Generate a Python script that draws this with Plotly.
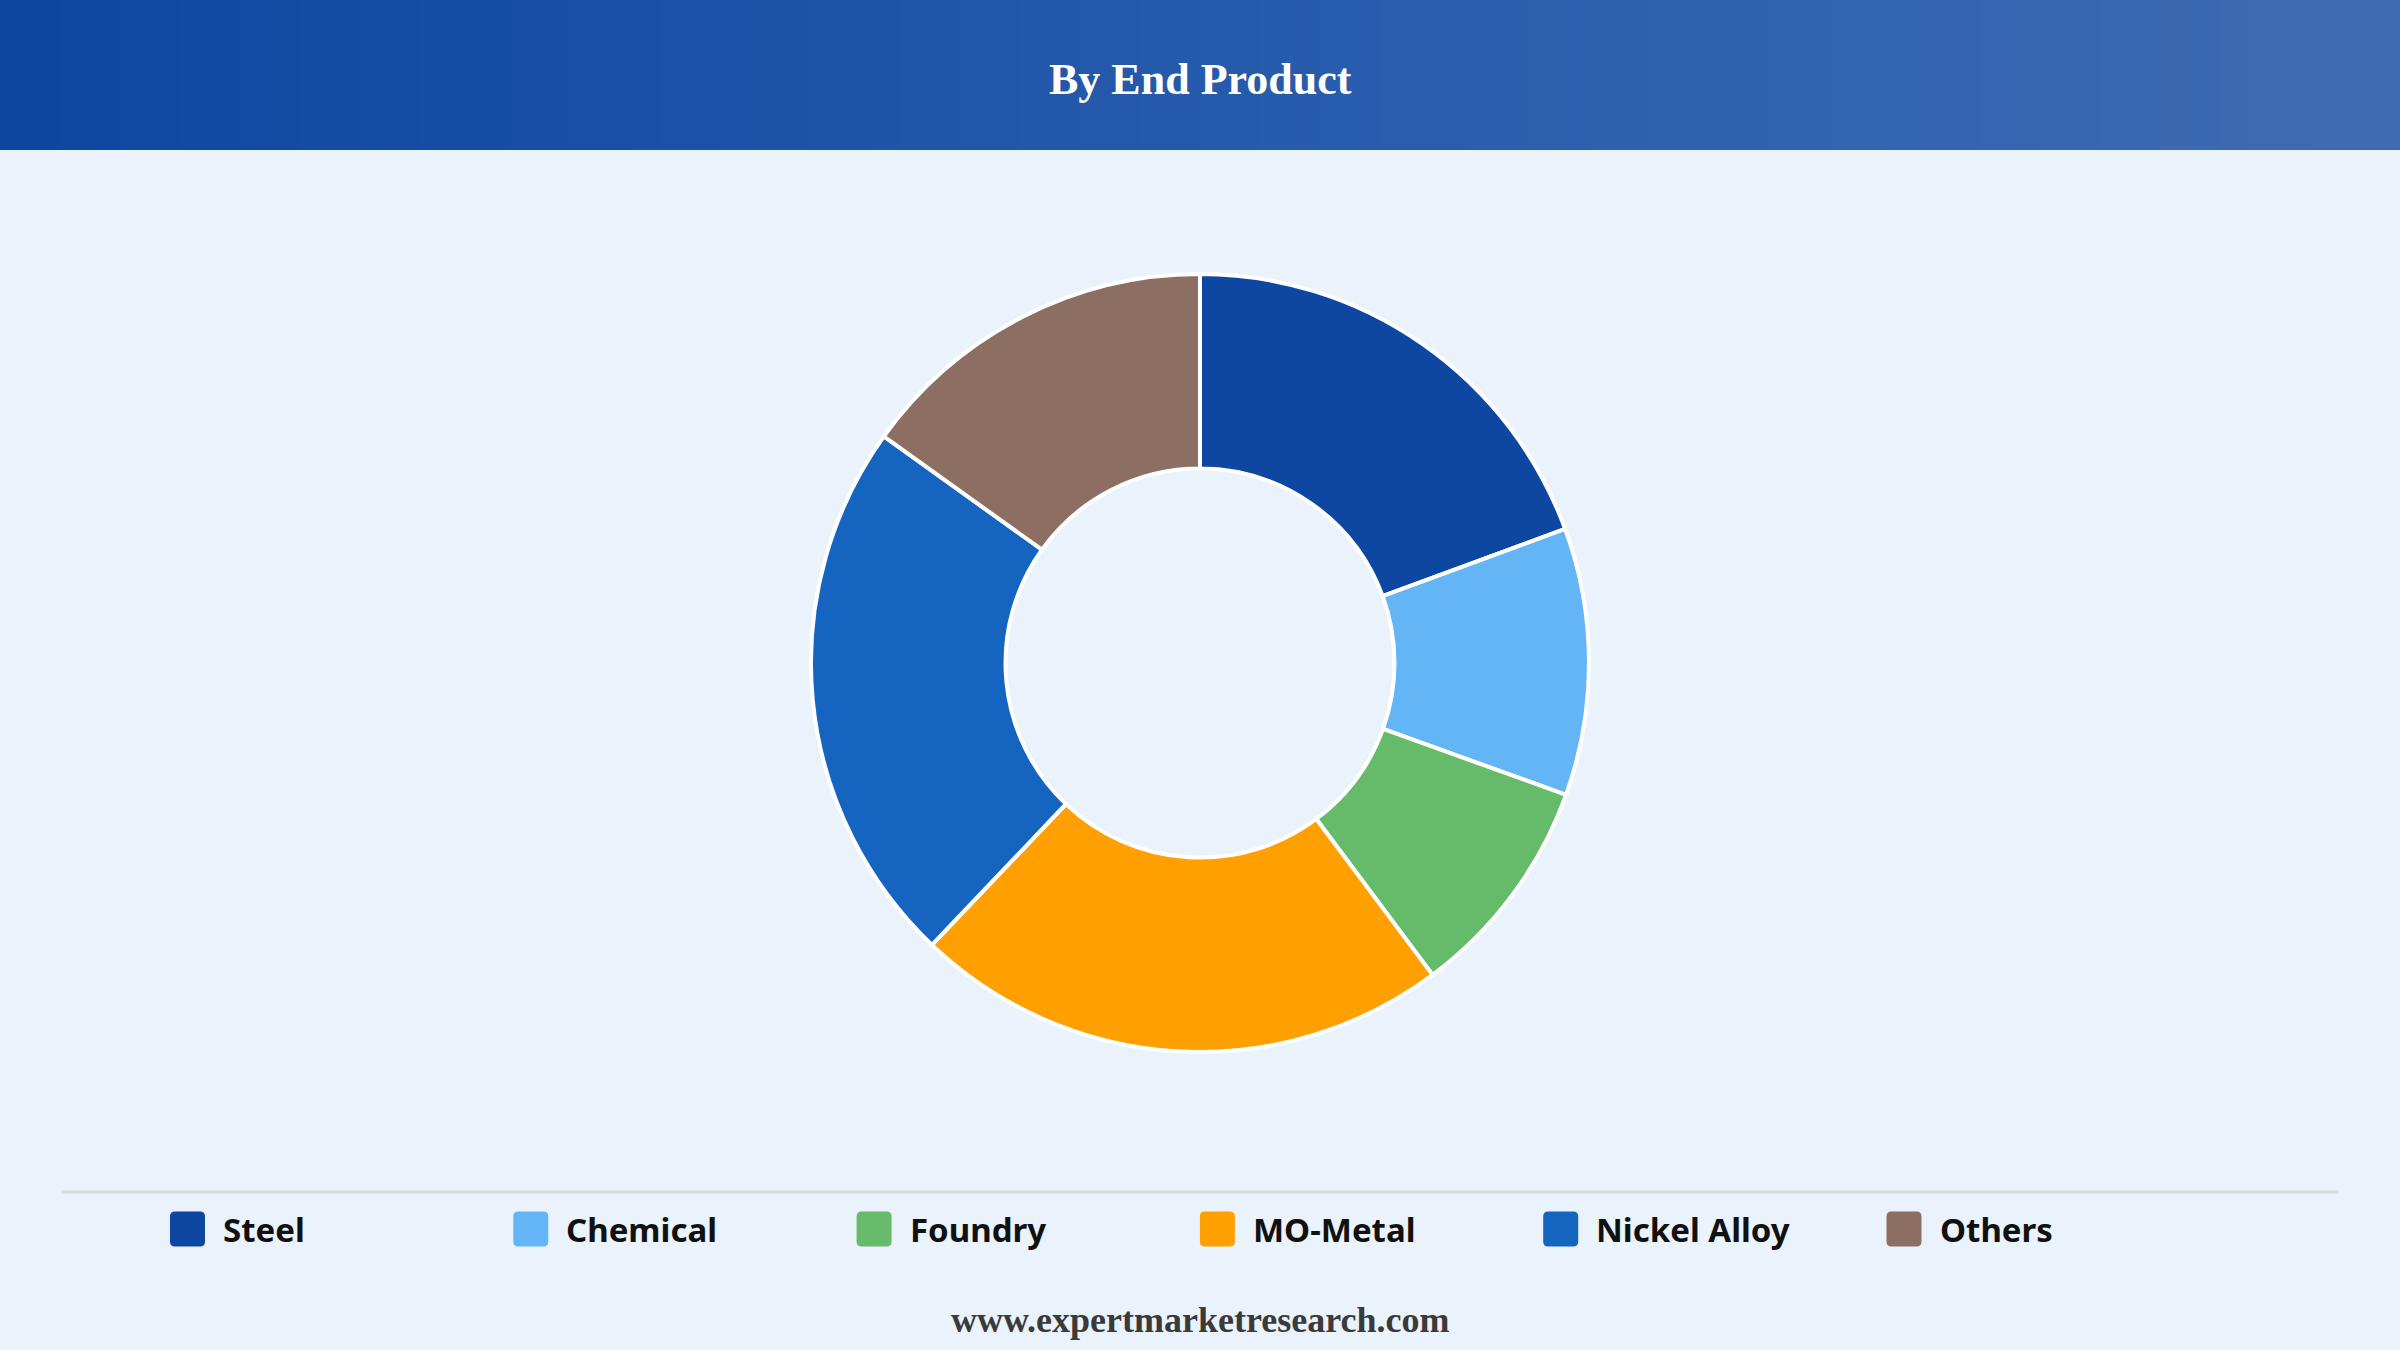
import plotly.graph_objects as go

# data
labels = ["Steel", "Chemical", "Foundry", "MO-Metal", "Nickel Alloy", "Others"]
shares = [19.4, 11.1, 9.3, 22.3, 22.8, 15.1]
colors = ["#0D47A1", "#64B5F6", "#66BB6A", "#FFA000", "#1565C0", "#8D6E63"]

title_text = "By End Product"
footer_text = "www.expertmarketresearch.com"

W, H = 2400, 1350
bg = "#EAF2FB"

fig = go.Figure()
fig.add_trace(go.Pie(
    labels=labels,
    values=shares,
    marker=dict(colors=colors, line=dict(color="white", width=4)),
    hole=0.5,
    sort=False,
    direction="clockwise",
    rotation=0,
    textinfo="none",
    hoverinfo="label+percent",
    showlegend=False,
    domain=dict(x=[0.3379, 0.6621], y=[0.2207, 0.797]),
))

shapes = []

# header band with a left-to-right gradient, built from thin strips
c0 = (13, 71, 161)
c1 = (62, 108, 180)
n = 80
for i in range(n):
    t = i / (n - 1)
    c = tuple(round(a + (b - a) * t) for a, b in zip(c0, c1))
    shapes.append(dict(
        type="rect", xref="paper", yref="paper",
        x0=i / n, x1=(i + 1) / n + 0.002, y0=1 - 150 / H, y1=1,
        fillcolor=f"rgb{c}", line=dict(width=0), layer="below",
    ))

# separator above the legend
shapes.append(dict(
    type="line", xref="paper", yref="paper",
    x0=61 / W, x1=2339 / W, y0=1 - 1192 / H, y1=1 - 1192 / H,
    line=dict(color="#DADDE2", width=3),
))

annotations = [
    dict(text=f"<b>{title_text}</b>", x=0.5, y=1 - 80 / H, xref="paper", yref="paper",
         showarrow=False, xanchor="center", yanchor="middle",
         font=dict(family="Liberation Serif", size=44, color="white")),
    dict(text=f"<b>{footer_text}</b>", x=0.5, y=1 - 1320 / H, xref="paper", yref="paper",
         showarrow=False, xanchor="center", yanchor="middle",
         font=dict(family="Liberation Serif", size=36, color="#3A3A3A")),
]

# custom legend row, rounded swatches
h = 17.5
r = 5
swatch = (f"M {-h + r},{-h} L {h - r},{-h} Q {h},{-h} {h},{-h + r} "
          f"L {h},{h - r} Q {h},{h} {h - r},{h} L {-h + r},{h} Q {-h},{h} {-h},{h - r} "
          f"L {-h},{-h + r} Q {-h},{-h} {-h + r},{-h} Z")
for i, (lab, col) in enumerate(zip(labels, colors)):
    left = 170 + i * 343.3
    yc = 1229
    shapes.append(dict(
        type="path", xref="paper", yref="paper",
        xsizemode="pixel", ysizemode="pixel",
        xanchor=(left + h) / W, yanchor=1 - yc / H,
        path=swatch, fillcolor=col, line=dict(width=0),
    ))
    annotations.append(dict(
        text=f"<b>{lab}</b>", x=(left + 2 * h + 16) / W, y=1 - yc / H,
        xref="paper", yref="paper", showarrow=False,
        xanchor="left", yanchor="middle",
        font=dict(family="Noto Sans", size=33, color="#111111"),
    ))

fig.update_layout(
    width=W, height=H,
    paper_bgcolor=bg, plot_bgcolor=bg,
    margin=dict(l=0, r=0, t=0, b=0),
    shapes=shapes,
    annotations=annotations,
    showlegend=False,
)

fig.write_html("out.html", config={"displayModeBar": False},
               post_script="document.body.style.margin='0';")
